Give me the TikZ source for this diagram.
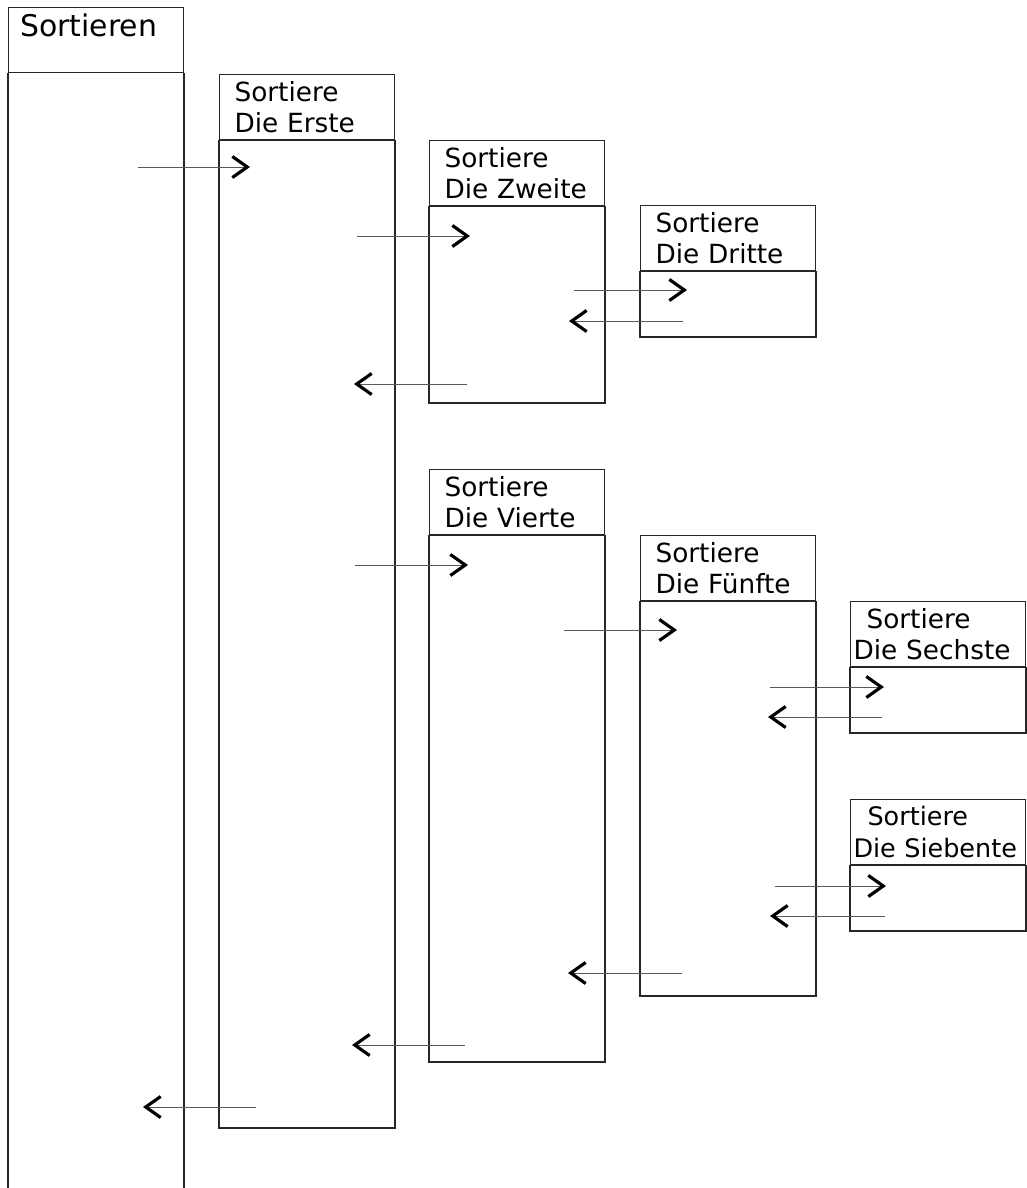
\documentclass[tikz,border=0pt]{standalone}
\usepackage{fontspec}
\setmainfont{DejaVu Sans}
\usetikzlibrary{arrows.meta}

\tikzset{
  lifebox/.style={draw=black!85, line width=0.6pt},
  head/.style={lifebox, anchor=north west, minimum width=3.5cm, minimum height=1.3cm,
    inner xsep=0.3cm, inner ysep=0pt, text width=2.9cm, align=left,
    font=\fontsize{15}{18}\selectfont},
  widehead/.style={head, inner xsep=0.06cm, text width=3.38cm},
  call/.style={draw=black!65, line width=0.5pt,
    -{Straight Barb[length=8.5pt,width=12pt,line width=1.8pt,color=black]}},
}

\begin{document}
\begin{tikzpicture}[x=0.02cm, y=-0.02cm]
  \useasboundingbox (0,0) rectangle (1027,1188);

  % caller
  \node[head] (main) at (8,7) {};
  \node[anchor=base west, inner sep=0pt, font=\fontsize{17}{18}\selectfont] (maintext) at (20,36) {Sortieren};
  \draw[lifebox] (main.south west) -- (main.west |- 0,1188)
                 (main.south east) -- (main.east |- 0,1188);

  % activations
  \node[head] (erste) at (219,74) {Sortiere\\Die Erste};
  \draw[lifebox] (erste.south west) rectangle (erste.east |- 0,1128);
  \node[head] (zweite) at (429,140) {Sortiere\\Die Zweite};
  \draw[lifebox] (zweite.south west) rectangle (zweite.east |- 0,403);
  \node[head] (dritte) at (640,205) {Sortiere\\Die Dritte};
  \draw[lifebox] (dritte.south west) rectangle (dritte.east |- 0,337);
  \node[head] (vierte) at (429,469) {Sortiere\\Die Vierte};
  \draw[lifebox] (vierte.south west) rectangle (vierte.east |- 0,1062);
  \node[head] (fuenfte) at (640,535) {Sortiere\\Die Fünfte};
  \draw[lifebox] (fuenfte.south west) rectangle (fuenfte.east |- 0,996);
  \node[widehead] (sechste) at (850,601) {\hspace*{0.26cm}Sortiere\\\mbox{Die Sechste}};
  \draw[lifebox] (sechste.south west) rectangle (sechste.east |- 0,733);
  \node[widehead, font=\fontsize{14.5}{18}\selectfont] (siebente) at (850,799)
    {\hspace*{0.28cm}Sortiere\\\mbox{Die Siebente}};
  \draw[lifebox] (siebente.south west) rectangle (siebente.east |- 0,931);

  % calls and returns
  \coordinate (from1) at (138,167);   \coordinate (to1) at (250,167);
  \coordinate (from2) at (357,236);   \coordinate (to2) at (470,236);
  \coordinate (from3) at (574,290);   \coordinate (to3) at (687,290);
  \coordinate (from4) at (683,321);   \coordinate (to4) at (569,321);
  \coordinate (from5) at (467,384);   \coordinate (to5) at (354,384);
  \coordinate (from6) at (355,565);   \coordinate (to6) at (468,565);
  \coordinate (from7) at (564,630);   \coordinate (to7) at (677,630);
  \coordinate (from8) at (770,687);   \coordinate (to8) at (884,687);
  \coordinate (from9) at (882,717);   \coordinate (to9) at (768,717);
  \coordinate (from10) at (775,886);  \coordinate (to10) at (886,886);
  \coordinate (from11) at (885,916);  \coordinate (to11) at (770,916);
  \coordinate (from12) at (682,973);  \coordinate (to12) at (568,973);
  \coordinate (from13) at (465,1045); \coordinate (to13) at (352,1045);
  \coordinate (from14) at (256,1107); \coordinate (to14) at (143,1107);
  \foreach \i in {1,...,14}
    \draw[call] (from\i) -- (to\i);
\end{tikzpicture}
\end{document}
